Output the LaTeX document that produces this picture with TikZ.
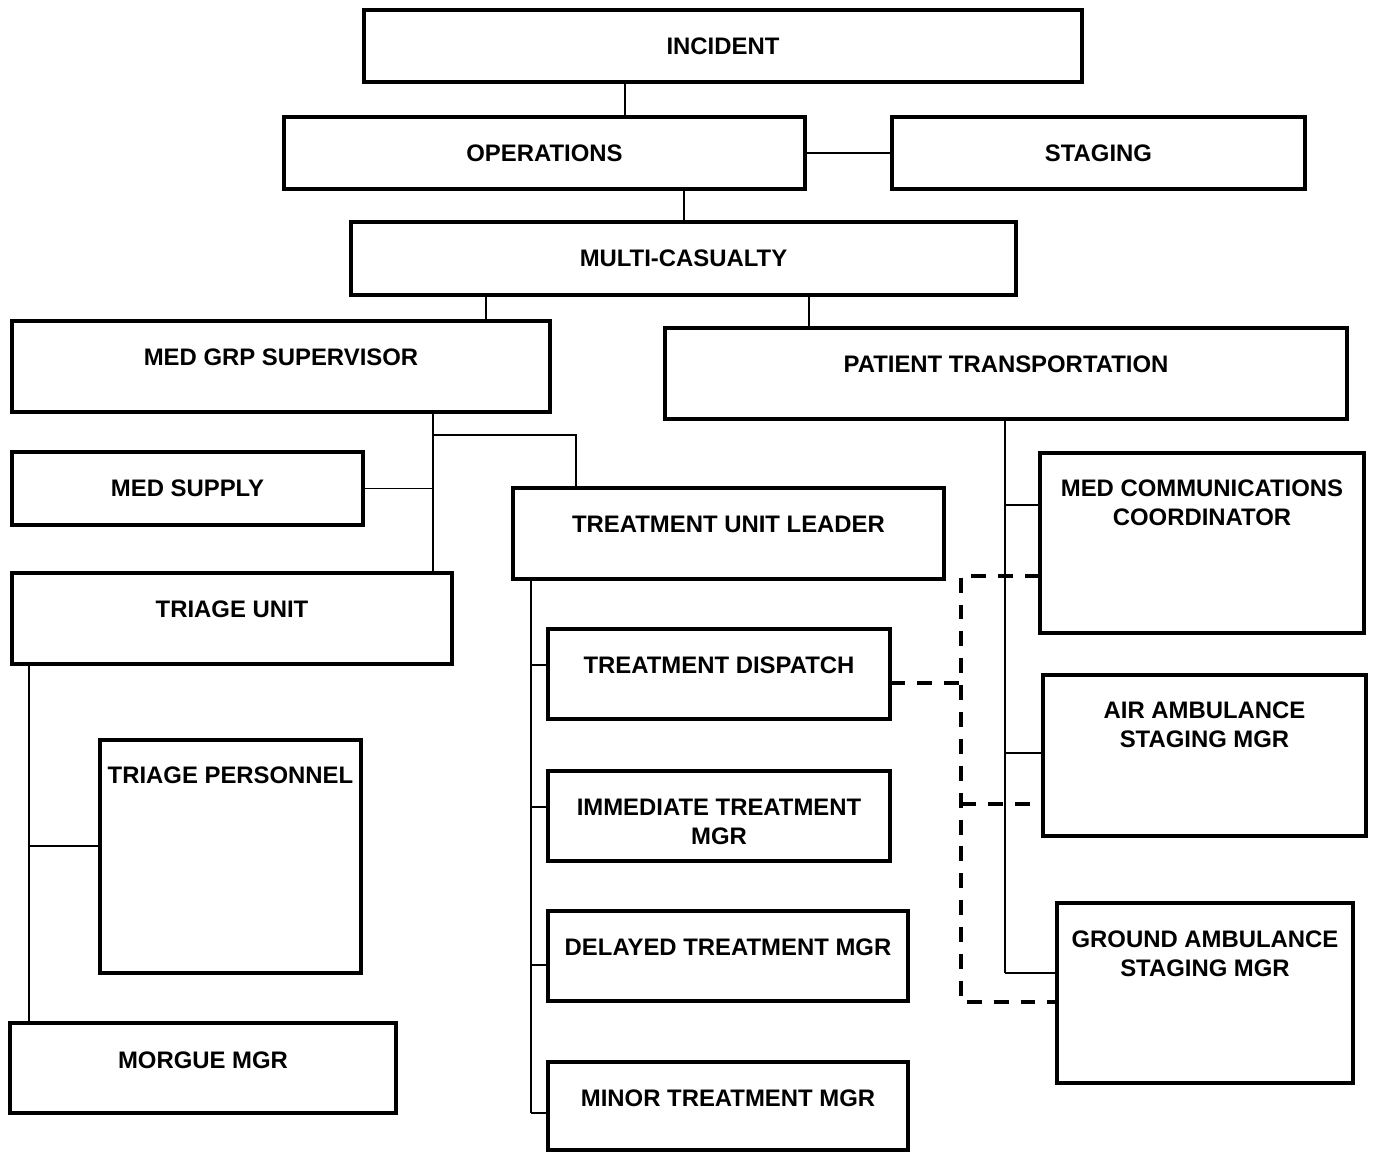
\documentclass[tikz,border=0pt]{standalone}
\usepackage{fontspec}
\setmainfont{Liberation Sans}
\begin{document}
\begin{tikzpicture}[x=0.02cm,y=-0.02cm,
  box/.style={draw, line width=2.5pt, inner sep=0pt, outer sep=0pt, anchor=north west},
  lbl/.style={anchor=north, inner sep=0pt, align=center, font=\bfseries\fontsize{13.6}{16.5}\selectfont},
  conn/.style={line width=0.85pt},
  dsh/.style={line width=2.3pt, dash pattern=on 8.5pt off 6.8pt}]
\useasboundingbox (0,0) rectangle (1376,1152);
\newcommand\bx[7]{%
  \node[box, minimum width={(#4-#2)*0.02cm}, minimum height={(#5-#3)*0.02cm}] (#1) at (#2,#3) {};
  \node[lbl] (#1-l) at ({(#2+#4)/2},#6) {#7};}
\bx{incident}{364}{10}{1082}{82}{37.5}{INCIDENT}
\bx{ops}{284}{117}{805}{189}{144.5}{OPERATIONS}
\bx{staging}{892}{117}{1305}{189}{144.5}{STAGING}
\bx{mc}{351}{222}{1016}{295}{249.5}{MULTI-CASUALTY}
\bx{mgs}{12}{321}{550}{412}{348.5}{MED GRP SUPERVISOR}
\bx{pt}{665}{328}{1347}{419}{355.5}{PATIENT TRANSPORTATION}
\bx{ms}{12}{452}{363}{525}{479}{MED SUPPLY}
\bx{tul}{513}{488}{944}{579}{515.5}{TREATMENT UNIT LEADER}
\bx{tu}{12}{573}{452}{664}{600.5}{TRIAGE UNIT}
\bx{tdisp}{548}{629}{890}{719}{656.5}{TREATMENT DISPATCH}
\bx{imm}{548}{771}{890}{861}{798.5}{IMMEDIATE TREATMENT\\MGR}
\bx{del}{548}{911}{908}{1001}{938.5}{DELAYED TREATMENT MGR}
\bx{minor}{548}{1062}{908}{1150}{1089.5}{MINOR TREATMENT MGR}
\bx{tp}{100}{740}{361}{973}{766.5}{TRIAGE PERSONNEL}
\bx{morgue}{10}{1023}{396}{1113}{1051.5}{MORGUE MGR}
\bx{mcc}{1040}{453}{1364}{633}{479.5}{MED COMMUNICATIONS\\COORDINATOR}
\bx{air}{1043}{675}{1366}{836}{701.5}{AIR AMBULANCE\\STAGING MGR}
\bx{ground}{1057}{903}{1353}{1083}{930.5}{GROUND AMBULANCE\\STAGING MGR}
% named coordinates for connector tracks
\coordinate (x625) at (625,0);
\coordinate (x684) at (684,0);
\coordinate (x486) at (486,0);
\coordinate (x809) at (809,0);
\coordinate (x576) at (576,0);
\coordinate (x29) at (29,0);
\coordinate (j1) at (433,435);
\coordinate (tpj) at (29,846);
\coordinate (tb) at (531,0);
\coordinate (t1) at (531,665);
\coordinate (t2) at (531,807);
\coordinate (t3) at (531,965);
\coordinate (t4) at (531,1113);
\coordinate (pb) at (1005,0);
\coordinate (p1) at (1005,505);
\coordinate (p2) at (1005,753);
\coordinate (p3) at (1005,973);
\coordinate (d0) at (961,683);
\coordinate (d1) at (961,576);
\coordinate (d2) at (961,804);
\coordinate (d3) at (961,1002);
% solid connectors
\draw[conn] (incident.south -| x625) -- (ops.north -| x625);
\draw[conn] (ops.east) -- (staging.west);
\draw[conn] (ops.south -| x684) -- (mc.north -| x684);
\draw[conn] (mc.south -| x486) -- (mgs.north -| x486);
\draw[conn] (mc.south -| x809) -- (pt.north -| x809);
\draw[conn] (mgs.south -| j1) -- (tu.north -| j1);
\draw[conn] (j1) -| (tul.north -| x576);
\draw[conn] (ms.east) -- (ms.east -| j1);
\draw[conn] (tu.south -| x29) -- (morgue.north -| x29);
\draw[conn] (tpj) -- (tp.west |- tpj);
\draw[conn] (tul.south -| tb) -- (t4);
\draw[conn] (t1) -- (tdisp.west |- t1);
\draw[conn] (t2) -- (imm.west |- t2);
\draw[conn] (t3) -- (del.west |- t3);
\draw[conn] (t4) -- (minor.west |- t4);
\draw[conn] (pt.south -| pb) -- (p3);
\draw[conn] (p1) -- (mcc.west |- p1);
\draw[conn] (p2) -- (air.west |- p2);
\draw[conn] (p3) -- (ground.west |- p3);
% dashed connectors
\draw[dsh] (tdisp.east |- d0) -- (d0);
\draw[dsh] (mcc.west |- d1) -- (d1) -- (d3) -- (ground.west |- d3);
\draw[dsh] (d2) -- (air.west |- d2);
\end{tikzpicture}
\end{document}
